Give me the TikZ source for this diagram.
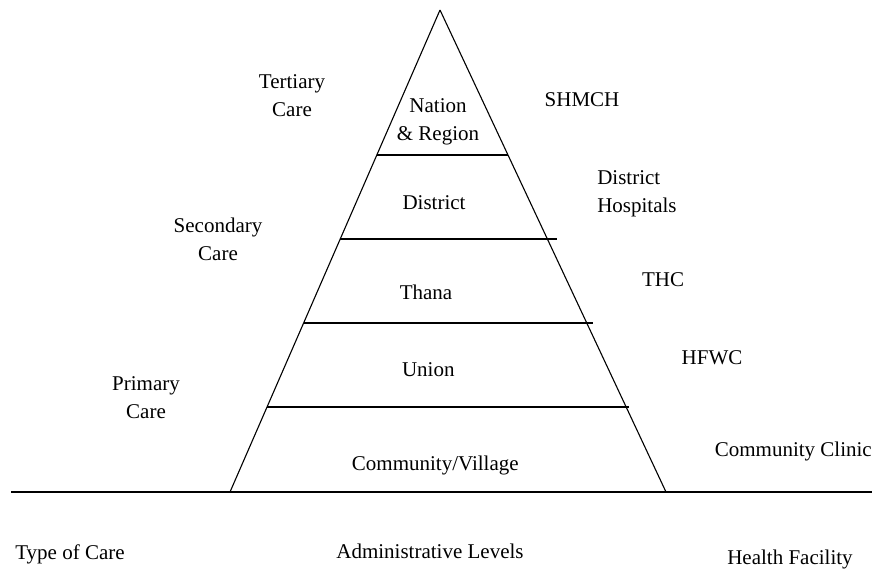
\documentclass[tikz,border=0pt]{standalone}
\usepackage{fontspec}
\setmainfont{Liberation Serif}

\begin{document}
\begin{tikzpicture}[x=1pt, y=-1pt, line width=1.1pt,
    every node/.style={font=\fontsize{21}{28}\selectfont, align=center, inner sep=0pt}]
    \useasboundingbox (0,0) rectangle (875,570);

    % Corners {apex, base, ground line}
    \coordinate (apex)  at (440,10);
    \coordinate (bl)    at (230,492);
    \coordinate (br)    at (666,492);
    \coordinate (gl)    at (11,492);
    \coordinate (gr)    at (872,492);

    % Level lines {l = left end, r = right end}
    \coordinate (l1) at (376.7,155);   \coordinate (r1) at (508,155);
    \coordinate (l2) at (340,239);     \coordinate (r2) at (556.7,239);
    \coordinate (l3) at (303.5,323);   \coordinate (r3) at (593,323);
    \coordinate (l4) at (267,407);     \coordinate (r4) at (629.3,407);

    % Nodes: type of care
    \node (tertiary)  at (292,95.5)   {Tertiary\\Care};
    \node (secondary) at (218,239.7)  {Secondary\\Care};
    \node (primary)   at (146,397.7)  {Primary\\Care};
    \node (typecare)  at (70,554)     {Type of Care};

    % Nodes: administrative levels
    \node (nation)    at (438,122)    {Nation\\\& Region};
    \node (district)  at (434,202.7)  {District};
    \node (thana)     at (426,292.7)  {Thana};
    \node (union)     at (428.3,370)  {Union};
    \node (village)   at (435.3,465)  {Community/Village};
    \node (admin)     at (430,551.7)  {Administrative Levels};

    % Nodes: health facility
    \node (shmch)     at (582,100)    {SHMCH};
    \node [anchor=west, align=left] (hospitals) at (596.7,193.6) {District\\Hospitals};
    \node (thc)       at (663,280)    {THC};
    \node (hfwc)      at (712,358)    {HFWC};
    \node (clinic)    at (793.3,451.3){Community Clinic};
    \node (facility)  at (790,559.3)  {Health Facility};

    % Paths
    \path [draw] (apex) -- (bl);
    \path [draw] (apex) -- (br);
    \path [draw] (gl) -- (gr);
    \path [draw] (l1) -- (r1);
    \path [draw] (l2) -- (r2);
    \path [draw] (l3) -- (r3);
    \path [draw] (l4) -- (r4);

\end{tikzpicture}
\end{document}
